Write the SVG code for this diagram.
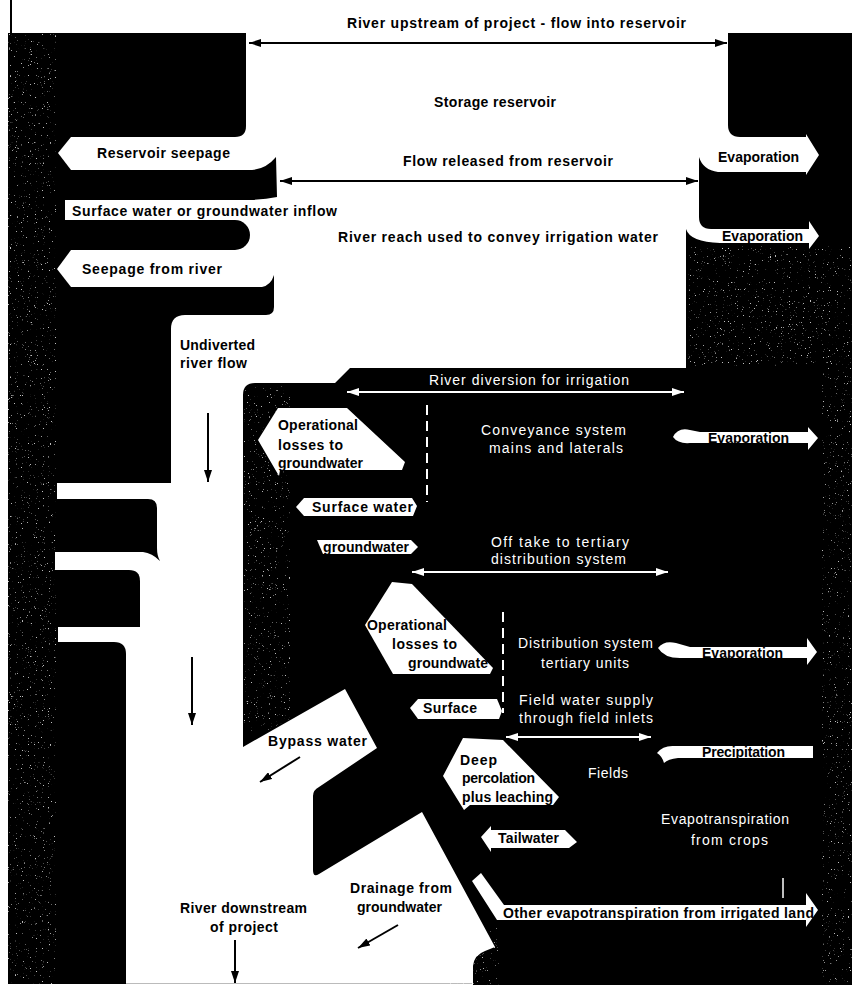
<svg xmlns="http://www.w3.org/2000/svg" width="852" height="985" viewBox="0 0 852 985">
<defs>
<style>
.b{fill:#000}
.w{fill:#fff}
.lb{font-family:"Liberation Sans",Arial,sans-serif;font-weight:bold;font-size:14px;fill:#000}
.lw{font-family:"Liberation Sans",Arial,sans-serif;font-size:14px;fill:#fff}
.ck{stroke:#000;stroke-width:2;fill:none}
.cw{stroke:#fff;stroke-width:2;fill:none}
.dash{stroke:#fff;stroke-width:2;stroke-dasharray:10 6;fill:none}
.gr{filter:url(#grain);opacity:0.75}
</style>
<marker id="hk" viewBox="0 0 12 8" refX="12" refY="4" markerWidth="12" markerHeight="8" markerUnits="userSpaceOnUse" orient="auto-start-reverse"><path d="M0,0 L12,4 L0,8 Z" fill="#000"/></marker>
<marker id="hw" viewBox="0 0 12 8" refX="12" refY="4" markerWidth="12" markerHeight="8" markerUnits="userSpaceOnUse" orient="auto-start-reverse"><path d="M0,0 L12,4 L0,8 Z" fill="#fff"/></marker>
<!-- sparse light flecks on the printed black areas -->
<filter id="grain" x="0" y="0" width="1" height="1">
<feTurbulence type="fractalNoise" baseFrequency="0.85" numOctaves="2" seed="7"/>
<feColorMatrix type="matrix" values="0 0 0 0 1  0 0 0 0 1  0 0 0 0 1  10 0 0 0 -6.9"/>
</filter>
</defs>
<rect width="852" height="985" fill="#fff"/>

<!-- solid ground: left bank, right bank and the irrigation project area -->
<g id="ground" class="b">
<rect x="10" y="0" width="2" height="34"/>
<rect x="8" y="33" width="64" height="951"/>
<path d="M8,33 H246 V126 Q246,137 235,137 H8 Z"/>
<path d="M8,170 H252 Q266,169 276,157 L277,197 Q266,199 252,200 H8 Z"/>
<path d="M8,220 H235 A15,15 0 0 1 235,250 H8 Z"/>
<path d="M8,287 H262 Q271,285 274,275 V307 Q274,315 266,315 H185 Q171,315 171,329 V483 H8 Z"/>
<path d="M8,499 H148 Q157,499 157,508 V548 Q157,556 160,561 Q152,553 143,552 H8 Z"/>
<path d="M8,570 H129 Q140,570 140,581 V627 H8 Z"/>
<path d="M8,642 H114 Q126,642 126,654 V984 H8 Z"/>
<path d="M728,33 H852 V137 H740 Q728,137 728,125 Z"/>
<path d="M699,157 Q703,170 718,172 H852 V229 H711 Q699,229 699,217 Z"/>
<rect x="806" y="33" width="46" height="952"/>
<path d="M243,395 Q243,383 255,383 H335 L350,368 H686 V229 Q690,242 720,243 H852 V985 H473 V966 Q474,955 485,951 L495,947 L422,812 L319,874 Q313,878 313,870 V796 Q313,790 319,787 L377,748 L345,689 L243,747 Z"/>
</g>
<line x1="126" y1="983.5" x2="472" y2="983.5" stroke="#bbb" stroke-width="1"/>

<!-- notches where white bands meet the banks -->
<g id="band-ends" class="w">
<rect x="65" y="200" width="12" height="20"/>
<rect x="57" y="483" width="20" height="16"/>
<rect x="55" y="552" width="20" height="18"/>
<rect x="58" y="627" width="20" height="15"/>
</g>

<!-- print grain on the bank edges -->
<g id="grain-areas">
<rect class="gr" x="8" y="33" width="48" height="951"/>
<rect class="gr" x="244" y="386" width="46" height="345"/>
<rect class="gr" x="688" y="246" width="164" height="120"/>
<rect class="gr" x="822" y="366" width="30" height="618"/>
<rect class="gr" x="440" y="925" width="60" height="60"/>
</g>

<!-- flows and storages -->
<g id="river-upstream"><text class="lb" x="347" y="28" textLength="339">River upstream of project - flow into reservoir</text></g>
<g id="storage-reservoir"><text class="lb" x="434" y="107" textLength="122">Storage reservoir</text></g>
<g id="reservoir-seepage"><path class="w" d="M80,137 H71 L58,153 L71,170 H80 Z"/><text class="lb" x="97" y="158" textLength="133">Reservoir seepage</text></g>
<g id="flow-released"><text class="lb" x="403" y="166" textLength="210">Flow released from reservoir</text></g>
<g id="evaporation-reservoir"><path class="w" d="M795,138 H806 V134 L819,155 L806,175 V171 H795 Z"/><text class="lb" x="718" y="162" textLength="81">Evaporation</text></g>
<g id="inflow"><text class="lb" x="72" y="216" textLength="265">Surface water or groundwater inflow</text></g>
<g id="river-reach"><text class="lb" x="338" y="242" textLength="320">River reach used to convey irrigation water</text></g>
<g id="evaporation-reach"><path class="w" d="M795,229 H809 V221 L819,236 L809,249 V243 H795 Z"/><text class="lb" x="722" y="241" textLength="81">Evaporation</text></g>
<g id="seepage-river"><path class="w" d="M80,250 H71 L57,269 L71,287 H80 Z"/><text class="lb" x="82" y="274" textLength="140">Seepage from river</text></g>
<g id="undiverted"><text class="lb" x="180" y="350" textLength="75">Undiverted</text><text class="lb" x="180" y="368" textLength="67">river flow</text></g>

<g id="river-diversion"><text class="lw" x="429" y="385" textLength="200">River diversion for irrigation</text></g>
<g id="losses-conveyance"><path class="w" d="M278,408 H347 L405,462 L402,470 H280 L279,476 L258,440 Z"/>
<text class="lb" x="278" y="430" textLength="80">Operational</text><text class="lb" x="278" y="450" textLength="65">losses to</text><text class="lb" x="278" y="468" textLength="85">groundwater</text></g>
<g id="conveyance"><text class="lw" x="481" y="435" textLength="145">Conveyance system</text><text class="lw" x="489" y="453" textLength="134">mains and laterals</text></g>
<g id="evaporation-conveyance"><path class="w" d="M673,437 Q678,427 690,430 L700,432 H808 V427 L818,438 L808,450 V443 H690 Q678,444 673,437 Z"/><text class="lb" x="708" y="443" textLength="81">Evaporation</text></g>
<g id="surface-water"><path class="w" d="M296,507 L304,498 H412 L417,506 L413,516 H304 Z"/><text class="lb" x="312" y="512" textLength="101">Surface water</text></g>
<g id="groundwater"><path class="w" d="M317,540 H411 L418,547 L411,554 H323 Z"/><text class="lb" x="323" y="552" textLength="86">groundwater</text></g>
<g id="off-take"><text class="lw" x="491" y="547" textLength="138">Off take to tertiary</text><text class="lw" x="491" y="564" textLength="135">distribution system</text></g>
<g id="losses-distribution"><path class="w" d="M392,582 L412,584 L493,668 L490,674 H393 L365,625 Z"/>
<text class="lb" x="367" y="630" textLength="80">Operational</text><text class="lb" x="392" y="649" textLength="65">losses to</text><text class="lb" x="408" y="668" textLength="80">groundwate</text></g>
<g id="distribution"><text class="lw" x="518" y="648" textLength="135">Distribution system</text><text class="lw" x="541" y="668" textLength="88">tertiary units</text></g>
<g id="evaporation-distribution"><path class="w" d="M658,648 Q664,640 676,643 L690,647 H807 V638 L817,652 L807,665 V658 H680 Q664,658 658,648 Z"/><text class="lb" x="702" y="658" textLength="81">Evaporation</text></g>
<g id="surface"><path class="w" d="M410,708 L418,699 H497 L502,711 L499,719 H418 Z"/><text class="lb" x="423" y="713" textLength="54">Surface</text></g>
<g id="field-supply"><text class="lw" x="519" y="705" textLength="134">Field water supply</text><text class="lw" x="519" y="723" textLength="134">through field inlets</text></g>
<g id="precipitation"><path class="w" d="M657,753 Q663,745 675,746 H813 V758 H678 Q668,759 664,763 Q662,756 657,753 Z"/><text class="lb" x="702" y="757" textLength="83">Precipitation</text></g>
<g id="bypass"><text class="lb" x="268" y="746" textLength="99">Bypass water</text></g>
<g id="deep-percolation"><path class="w" d="M463,738 L503,740 L559,797 L553,805 H470 L464,810 L443,776 Z"/>
<text class="lb" x="460" y="765" textLength="37">Deep</text><text class="lb" x="462" y="783" textLength="73">percolation</text><text class="lb" x="462" y="802" textLength="91">plus leaching</text></g>
<g id="fields"><text class="lw" x="588" y="778" textLength="40">Fields</text></g>
<g id="evapotranspiration-crops"><text class="lw" x="661" y="824" textLength="128">Evapotranspiration</text><text class="lw" x="691" y="845" textLength="77">from crops</text></g>
<g id="tailwater"><path class="w" d="M481,837 L491,826 V830 H565 L577,842 L569,848 H491 V852 Z"/><text class="lb" x="498" y="843" textLength="61">Tailwater</text></g>
<g id="drainage"><text class="lb" x="350" y="893" textLength="102">Drainage from</text><text class="lb" x="357" y="912" textLength="85">groundwater</text></g>
<g id="river-downstream"><text class="lb" x="180" y="913" textLength="127">River downstream</text><text class="lb" x="210" y="932" textLength="68">of project</text></g>
<g id="other-et"><path class="w" d="M472,881 L481,873 L504,905 H806 V893 L818,910 L806,927 V920 H497 Z"/>
<line x1="783" y1="878" x2="783" y2="898" stroke="#fff" stroke-width="1.5"/>
<text class="lb" x="503" y="918" textLength="311">Other evapotranspiration from irrigated land</text></g>

<!-- connectors -->
<g id="connectors">
<line class="ck" x1="249" y1="43" x2="727" y2="43" marker-start="url(#hk)" marker-end="url(#hk)"/>
<line class="ck" x1="280" y1="181" x2="698" y2="181" marker-start="url(#hk)" marker-end="url(#hk)"/>
<line class="cw" x1="347" y1="392" x2="684" y2="392" marker-start="url(#hw)" marker-end="url(#hw)"/>
<line class="cw" x1="412" y1="572" x2="668" y2="572" marker-start="url(#hw)" marker-end="url(#hw)"/>
<line class="cw" x1="506" y1="737" x2="651" y2="737" marker-start="url(#hw)" marker-end="url(#hw)"/>
<line class="dash" x1="427" y1="405" x2="427" y2="502"/>
<line class="dash" x1="503" y1="612" x2="503" y2="713"/>
<line class="ck" x1="208" y1="413" x2="208" y2="482" marker-end="url(#hk)"/>
<line class="ck" x1="192" y1="657" x2="192" y2="725" marker-end="url(#hk)"/>
<line class="ck" x1="235" y1="940" x2="235" y2="983" marker-end="url(#hk)"/>
<line class="ck" x1="300" y1="757" x2="260" y2="782" marker-end="url(#hk)"/>
<line class="ck" x1="398" y1="925" x2="358" y2="948" marker-end="url(#hk)"/>
</g>
</svg>
